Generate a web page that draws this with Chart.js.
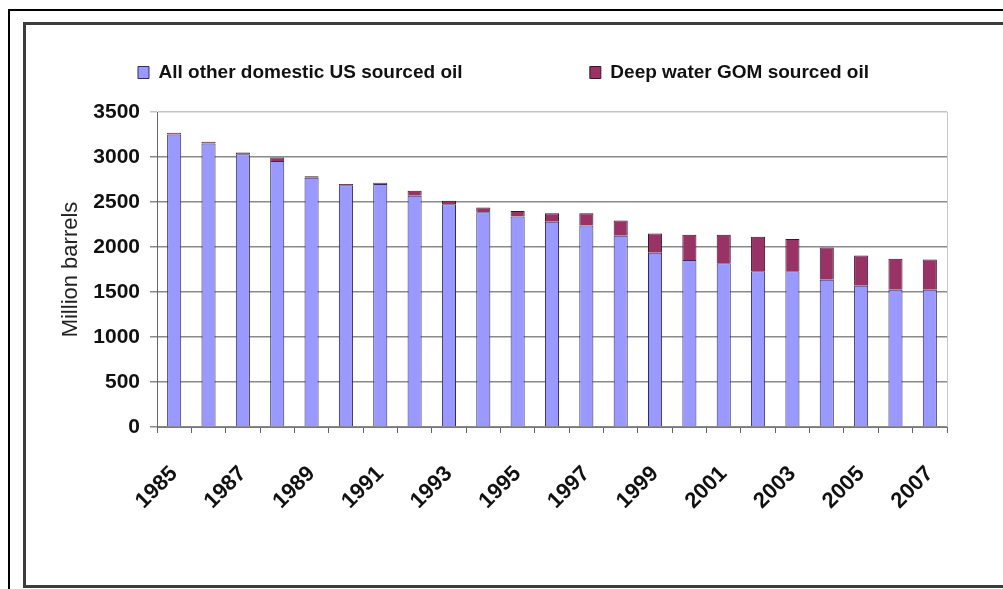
<!DOCTYPE html>
<html>
<head>
<meta charset="utf-8">
<script src="https://cdn.jsdelivr.net/npm/chart.js@4.4.1/dist/chart.umd.min.js"></script>
<style>
  body { margin: 0; background: #fff; overflow: hidden; }
  .outer { position: absolute; left: 8px; top: 9px; width: 1100px; height: 700px;
           border-left: 2px solid #000; border-top: 2px solid #000; }
  .inner { position: absolute; left: 23px; top: 22px; width: 1100px; height: 560px;
           border: 3px solid #3c3c3c; border-right: none; }
  #chart { position: absolute; left: 26px; top: 26px; }
</style>
</head>
<body>
<div class="outer"></div>
<div class="inner"></div>
<canvas id="chart" width="977" height="559"></canvas>
<script>
// US domestic oil production, million barrels
const years = ['1985', '1986', '1987', '1988', '1989', '1990', '1991', '1992', '1993', '1994', '1995', '1996',
               '1997', '1998', '1999', '2000', '2001', '2002', '2003', '2004', '2005', '2006', '2007'];
const otherOil = [3250, 3150, 3030, 2955, 2770, 2685, 2700, 2570, 2475, 2385, 2340, 2280,
                  2240, 2125, 1935, 1855, 1820, 1730, 1730, 1635, 1570, 1525, 1525];
const gomOil = [20, 20, 20, 40, 15, 15, 15, 55, 40, 55, 60, 95,
                135, 170, 215, 280, 315, 385, 360, 360, 335, 345, 335];
const yTicks = [0, 500, 1000, 1500, 2000, 2500, 3000, 3500];

const sans = "'Liberation Sans', Arial, sans-serif";

// thin light border on the right side of the plot
const rightEdge = {
    id: 'rightEdge',
    afterDraw(chart) {
        const a = chart.chartArea, c = chart.ctx;
        c.save();
        c.strokeStyle = '#c8c8c8';
        c.lineWidth = 1;
        c.beginPath();
        c.moveTo(a.right + 0.5, a.top);
        c.lineTo(a.right + 0.5, a.bottom);
        c.stroke();
        c.restore();
    }
};

// extra room between legend and plot
const legendGap = {
    id: 'legendGap',
    beforeInit(chart) {
        const fit = chart.legend.fit;
        chart.legend.fit = function () {
            fit.bind(chart.legend)();
            this.height += 20;
        };
    }
};

const ctx = document.getElementById('chart').getContext('2d');
const chart = new Chart(ctx, {
    type: 'bar',
    data: {
        labels: years,
        datasets: [{
            label: 'All other domestic US sourced oil',
            data: otherOil,
            backgroundColor: '#9999ff',
            borderColor: '#2e2e5c',
            borderWidth: 1,
            barPercentage: 0.41,
            categoryPercentage: 1
        }, {
            label: 'Deep water GOM sourced oil',
            data: gomOil,
            backgroundColor: '#993366',
            borderColor: '#3a1530',
            borderWidth: 1,
            barPercentage: 0.41,
            categoryPercentage: 1
        }]
    },
    options: {
        responsive: false,
        animation: false,
        layout: { padding: { left: 34, right: 56, top: 10, bottom: 0 } },
        plugins: {
            tooltip: { enabled: false },
            legend: {
                position: 'top',
                labels: {
                    color: '#111',
                    font: { family: sans, size: 19, weight: 'bold' },
                    boxWidth: 11,
                    boxHeight: 12,
                    padding: 27,
                    generateLabels(chart) {
                        const items = Chart.defaults.plugins.legend.labels.generateLabels(chart);
                        items[0].text = items[0].text + ' '.repeat(19);
                        return items;
                    }
                }
            }
        },
        scales: {
            x: {
                stacked: true,
                afterFit(scale) { scale.height = 158; },
                border: { color: '#777', width: 1 },
                grid: { drawOnChartArea: false, drawTicks: true, tickLength: 6, color: '#666' },
                ticks: {
                    autoSkip: false,
                    maxRotation: 45,
                    minRotation: 45,
                    padding: 28,
                    color: '#111',
                    font: { family: sans, size: 22, weight: 'bold' },
                    callback(val, i) { return i % 2 === 0 ? years[i] : ''; }
                }
            },
            y: {
                stacked: true,
                min: 0,
                max: 3500,
                afterFit(scale) { scale.width = 97; },
                afterBuildTicks(scale) { scale.ticks = yTicks.map(v => ({ value: v })); },
                border: { color: '#666', width: 1 },
                grid: {
                    drawTicks: true,
                    tickLength: 7,
                    lineWidth: 1.5,
                    color(c) { return c.tick && c.tick.value === 3500 ? '#c4c4c4' : '#8a8a8a'; }
                },
                ticks: {
                    padding: 10,
                    color: '#111',
                    font: { family: sans, size: 21, weight: 'bold' },
                    callback(val) { return String(val); }
                },
                title: {
                    display: true,
                    text: 'Million barrels',
                    color: '#222',
                    padding: 0,
                    font: { family: sans, size: 22, lineHeight: 1 }
                }
            }
        }
    },
    plugins: [rightEdge, legendGap]
});
</script>
</body>
</html>
